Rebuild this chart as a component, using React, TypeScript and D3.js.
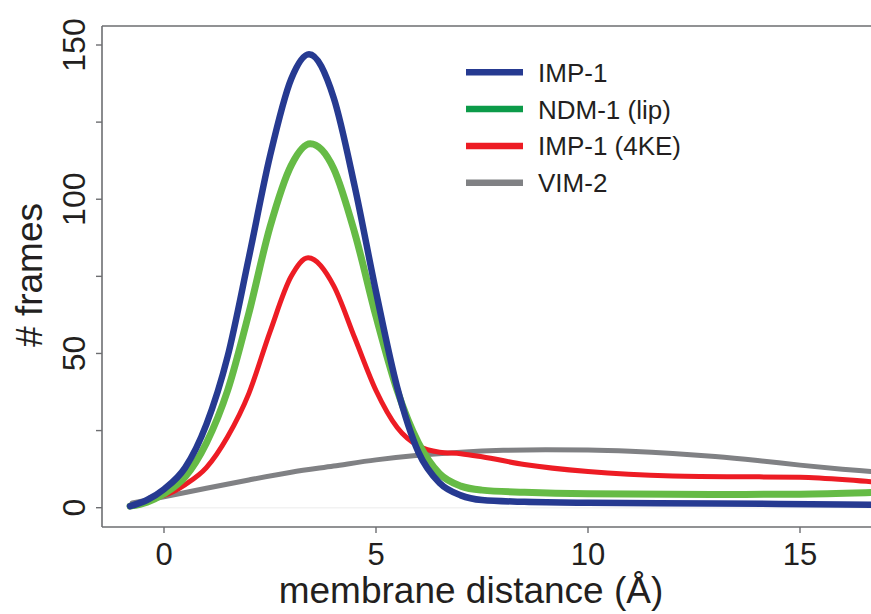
import React from "react";
import * as d3 from "d3";

const W = 871;
const H = 614;

const imp1X = [-0.8, -0.4, 0, 0.5, 1.0, 1.5, 2.0, 2.5, 3.0, 3.42, 4.0, 4.5, 5.0, 5.5, 6.0, 6.5, 7.0, 7.5, 8.5, 10, 13, 16, 17.2];
const imp1Y = [0.5, 2.5, 6, 13, 27, 49, 81, 114, 139, 147, 133, 104, 70, 39, 18, 8, 4, 2.5, 1.9, 1.6, 1.4, 1.0, 0.9];

const ndmX = [-0.8, -0.4, 0, 0.5, 1.0, 1.5, 2.0, 2.5, 3.0, 3.45, 4.0, 4.5, 5.0, 5.5, 6.0, 6.5, 7.0, 7.5, 8.5, 10, 13, 15, 16.7, 17.2];
const ndmY = [0.5, 1.8, 4.5, 10, 21, 38, 63, 91, 111, 118, 110, 89, 62, 38, 21, 11, 7, 5.7, 5, 4.5, 4.3, 4.4, 4.9, 5.1];

const kexX = [-0.33, 0, 0.5, 1.0, 1.5, 2.0, 2.5, 3.0, 3.4, 4.0, 4.5, 5.0, 5.5, 6.0, 6.5, 7.0, 7.5, 8.5, 10, 12, 14, 15, 16.7, 17.2];
const kexY = [3.2, 4, 7.5, 13, 23, 37, 57, 75, 81, 72, 55, 38, 26, 20, 18, 17.5, 16.5, 14, 11.7, 10.3, 10, 9.9, 8.4, 8.0];

const vimX = [-0.75, 0, 1, 2, 3, 4, 5, 6, 7, 8, 9, 10, 11, 12, 13, 14, 15, 16, 16.7, 17.2];
const vimY = [1.5, 3.5, 6.3, 9, 11.5, 13.5, 15.5, 17, 18, 18.6, 18.8, 18.7, 18.3, 17.6, 16.6, 15.3, 13.8, 12.5, 11.7, 11.1];

const xTicks = [0, 5, 10, 15];
const yTicks = [0, 25, 50, 75, 100, 125, 150];
const yLabels = [0, 50, 100, 150];

const seriesNames = ["IMP-1", "NDM-1 (lip)", "IMP-1 (4KE)", "VIM-2"];
const curveColors = ["#263a91", "#66bb46", "#ed1c24", "#808184"];
const legendColors = ["#263a91", "#0c9b49", "#ed1c24", "#808184"];
const strokeWidths = [6.5, 7, 5, 5];

const FONT = "'Liberation Sans', Arial, Helvetica, sans-serif";

export default function App() {
  const x = d3.scaleLinear().domain([0, 15]).range([164, 800]);
  const y = d3.scaleLinear().domain([0, 150]).range([507.7, 45]);

  const left = 102;
  const top = 26;
  const bottom = 527;

  const line = d3
    .line<[number, number]>()
    .x((d) => x(d[0]))
    .y((d) => y(d[1]))
    .curve(d3.curveMonotoneX);

  const data: [number, number][][] = [
    kexX.map((v, i) => [v, kexY[i]] as [number, number]),
    vimX.map((v, i) => [v, vimY[i]] as [number, number]),
    ndmX.map((v, i) => [v, ndmY[i]] as [number, number]),
    imp1X.map((v, i) => [v, imp1Y[i]] as [number, number]),
  ];
  // draw order: gray under, then red, green, blue? Observed: blue over green, red over gray
  const order = [3, 2, 1, 0]; // indices into series
  const seriesData = [
    imp1X.map((v, i) => [v, imp1Y[i]] as [number, number]),
    ndmX.map((v, i) => [v, ndmY[i]] as [number, number]),
    kexX.map((v, i) => [v, kexY[i]] as [number, number]),
    vimX.map((v, i) => [v, vimY[i]] as [number, number]),
  ];
  void data;

  const axisColor = "#6d6e71";

  return (
    <svg
      width={W}
      height={H}
      style={{ position: "absolute", left: 0, top: 0, background: "#fff" }}
    >
      <rect x={0} y={0} width={W} height={H} fill="#fff" />
      {/* faint zero line */}
      <line x1={x(-0.8)} x2={W} y1={y(0)} y2={y(0)} stroke="#f2f2f2" strokeWidth={1.5} />
      {/* curves */}
      {[3, 0, 1, 2].map(() => null)}
      {order.map((si) => (
        <path
          key={si}
          d={line(seriesData[si]) || ""}
          fill="none"
          stroke={curveColors[si]}
          strokeWidth={strokeWidths[si]}
          strokeLinecap="round"
          strokeLinejoin="round"
        />
      ))}
      {/* frame */}
      <line x1={left} x2={W} y1={top} y2={top} stroke={axisColor} strokeWidth={1.6} />
      <line x1={left} x2={left} y1={top} y2={bottom} stroke={axisColor} strokeWidth={1.6} />
      <line x1={left} x2={W} y1={bottom} y2={bottom} stroke={axisColor} strokeWidth={1.6} />
      {/* y ticks */}
      {yTicks.map((t) => (
        <line key={"yt" + t} x1={left - 6} x2={left} y1={y(t)} y2={y(t)} stroke={axisColor} strokeWidth={1.4} />
      ))}
      {yLabels.map((t) => (
        <text
          key={"yl" + t}
          transform={`translate(85,${y(t)}) rotate(-90)`}
          textAnchor="middle"
          fontFamily={FONT}
          fontSize={32}
          fill="#231f20"
        >
          {t}
        </text>
      ))}
      {/* x ticks */}
      {xTicks.map((t) => (
        <g key={"xt" + t}>
          <line x1={x(t)} x2={x(t)} y1={bottom} y2={bottom + 6} stroke={axisColor} strokeWidth={1.4} />
          <text x={x(t)} y={565} textAnchor="middle" fontFamily={FONT} fontSize={31} fill="#231f20">
            {t}
          </text>
        </g>
      ))}
      {/* axis titles */}
      <text x={471} y={603} textAnchor="middle" fontFamily={FONT} fontSize={37} fill="#231f20">
        membrane distance (Å)
      </text>
      <text
        transform={`translate(42,275) rotate(-90)`}
        textAnchor="middle"
        fontFamily={FONT}
        fontSize={37}
        fill="#231f20"
      >
        # frames
      </text>
      {/* legend */}
      {seriesNames.map((n, i) => {
        const ly = 72.3 + i * 36.8;
        return (
          <g key={"lg" + i}>
            <line x1={466} x2={523} y1={ly} y2={ly} stroke={legendColors[i]} strokeWidth={6.5} />
            <text x={538} y={ly + 9.5} fontFamily={FONT} fontSize={26} fill="#231f20">
              {n}
            </text>
          </g>
        );
      })}
    </svg>
  );
}
